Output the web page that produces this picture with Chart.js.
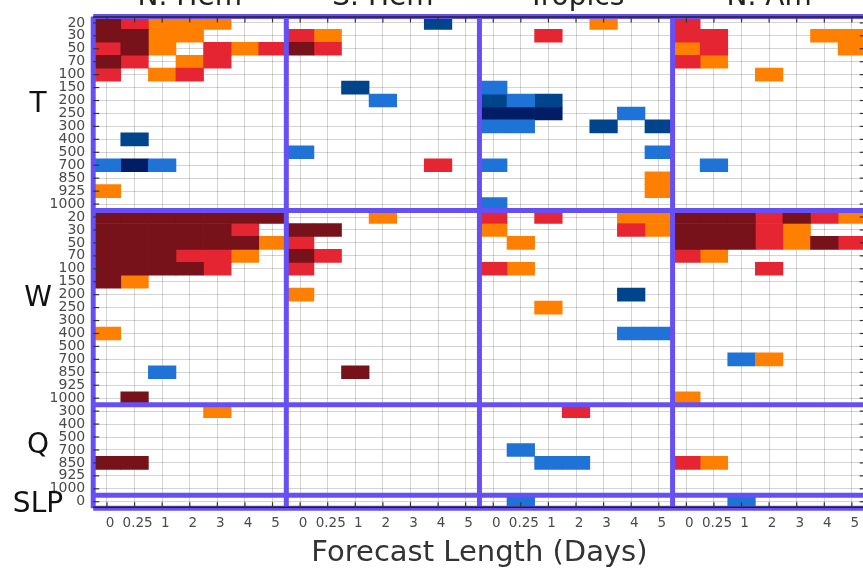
<!DOCTYPE html>
<html>
<head>
<meta charset="utf-8">
<script src="https://cdn.jsdelivr.net/npm/chart.js@4"></script>
<style>
  html, body { margin: 0; padding: 0; background: #fff; overflow: hidden; }
  #wrap { width: 863px; height: 573px; overflow: hidden; }
</style>
</head>
<body>
<div id="wrap"><canvas id="scorecard" width="875" height="573"></canvas></div>
<script>
// regions (column panels) and forecast lengths inside each panel
const panels = ['N. Hem', 'S. Hem', 'Tropics', 'N. Am'];
const days = ['0', '0.25', '1', '2', '3', '4', '5'];

// pressure levels of each variable block
const tLevels = ['20', '30', '50', '70', '100', '150', '200', '250', '300', '400', '500', '700', '850', '925', '1000'];
const wLevels = ['20', '30', '50', '70', '100', '150', '200', '250', '300', '400', '500', '700', '850', '925', '1000'];
const qLevels = ['300', '400', '500', '700', '850', '925', '1000'];
const slpLevels = ['0'];

// score codes per level: one char per forecast length, panels split by '|'
// D = dark red, R = red, O = orange, L = light blue, B = blue, N = navy, . = none
const tCells = [
  'DROOO..|.....B.|....O..|R......',
  'DDOO...|RO.....|..R....|RR...OO',
  'RDO.ROR|DR.....|.......|OR....O',
  'DR.OR..|.......|.......|RO.....',
  'R.OR...|.......|.......|...O...',
  '.......|..B....|L......|.......',
  '.......|...L...|BLB....|.......',
  '.......|.......|NNN..L.|.......',
  '.......|.......|LL..B.B|.......',
  '.B.....|.......|.......|.......',
  '.......|L......|......L|.......',
  'LNL....|.....R.|L......|.L.....',
  '.......|.......|......O|.......',
  'O......|.......|......O|.......',
  '.......|.......|L......|.......'
];
const wCells = [
  'DDDDDDD|...O...|R.R..OO|DDDRDRO',
  'DDDDDR.|DD.....|O....RO|DDDRO..',
  'DDDDDDO|R......|.O.....|DDDRODR',
  'DDDRRO.|DR.....|.......|RO.....',
  'DDDDR..|R......|RO.....|...R...',
  'DO.....|.......|.......|.......',
  '.......|O......|.....B.|.......',
  '.......|.......|..O....|.......',
  '.......|.......|.......|.......',
  'O......|.......|.....LL|.......',
  '.......|.......|.......|.......',
  '.......|.......|.......|..LO...',
  '..L....|..D....|.......|.......',
  '.......|.......|.......|.......',
  '.D.....|.......|.......|O......'
];
const qCells = [
  '....O..|.......|...R...|.......',
  '.......|.......|.......|.......',
  '.......|.......|.......|.......',
  '.......|.......|.L.....|.......',
  'DD.....|.......|..LL...|RO.....',
  '.......|.......|.......|.......',
  '.......|.......|.......|.......'
];
const slpCells = [
  '.......|.......|.L.....|..L....'
];

const colors = {
  D: '#77121a',
  R: '#e52531',
  O: '#ff8000',
  L: '#1f72d6',
  B: '#00458b',
  N: '#001d66'
};

const groups = [
  { name: 'T', levels: tLevels, cells: tCells, at: 6.3 },
  { name: 'W', levels: wLevels, cells: wCells, at: 21.3 },
  { name: 'Q', levels: qLevels, cells: qCells, at: 32.7 },
  { name: 'SLP', levels: slpLevels, cells: slpCells, at: 37.2 }
];

// build row keys and one dataset per colour
let rowKeys = [];
let byColor = {};
Object.keys(colors).forEach(k => byColor[k] = []);
groups.forEach(g => {
  g.levels.forEach((lev, li) => {
    const key = g.name + ' ' + lev;
    rowKeys.push(key);
    const codes = g.cells[li].replace(/\|/g, '');
    for (let c = 0; c < codes.length; c++) {
      const ch = codes[c];
      if (byColor[ch]) byColor[ch].push({ y: key, x: [c, c + 1] });
    }
  });
});
const datasets = Object.keys(colors).map(k => ({
  label: k,
  data: byColor[k],
  backgroundColor: colors[k],
  borderWidth: 0
}));

const nCols = panels.length * days.length;
const purple = '#6650f5';

const overlay = {
  id: 'overlay',
  afterDraw(chart) {
    const ctx = chart.ctx;
    const a = chart.chartArea;
    const x = chart.scales.x;
    const y = chart.scales.y;
    const line = (x1, y1, x2, y2) => { ctx.beginPath(); ctx.moveTo(x1, y1); ctx.lineTo(x2, y2); ctx.stroke(); };
    ctx.save();

    // separators between panels and variable blocks
    ctx.strokeStyle = purple;
    ctx.lineWidth = 5;
    for (let p = 0; p <= panels.length; p++) {
      const px = x.getPixelForValue(p * days.length);
      line(px, a.top, px, a.bottom);
    }
    let start = 0;
    const bounds = [0];
    groups.forEach(g => { start += g.levels.length; bounds.push(start); });
    bounds.forEach(b => {
      const py = y.getPixelForValue(b - 0.5);
      line(a.left, py, a.right, py);
    });

    // spines
    ctx.strokeStyle = '#222';
    ctx.lineWidth = 1.5;
    line(a.left, a.top + 0.5, a.right, a.top + 0.5);
    line(a.left, a.bottom - 1, a.right, a.bottom - 1);

    // inward tick marks
    ctx.strokeStyle = '#333';
    ctx.lineWidth = 1.2;
    x.ticks.forEach(t => {
      const px = x.getPixelForValue(t.value);
      line(px, a.top, px, a.top + 6);
      line(px, a.bottom, px, a.bottom - 6);
    });
    rowKeys.forEach((k, i) => {
      const py = y.getPixelForValue(i);
      line(a.left, py, a.left + 6, py);
      line(a.right, py, a.right - 6, py);
    });

    // panel titles (cut by the top edge)
    ctx.fillStyle = '#222';
    ctx.font = '28px "DejaVu Sans"';
    ctx.textAlign = 'center';
    ctx.textBaseline = 'alphabetic';
    panels.forEach((name, p) => {
      ctx.fillText(name, x.getPixelForValue(p * days.length + days.length / 2), 5);
    });

    // variable names on the left
    ctx.fillStyle = '#111';
    ctx.font = '28px "DejaVu Sans"';
    ctx.textBaseline = 'middle';
    groups.forEach(g => {
      ctx.fillText(g.name, 38, y.getPixelForValue(g.at));
    });
    ctx.restore();
  }
};

const chart = new Chart(document.getElementById('scorecard').getContext('2d'), {
  type: 'bar',
  data: { labels: rowKeys, datasets: datasets },
  options: {
    indexAxis: 'y',
    responsive: false,
    animation: false,
    devicePixelRatio: 1,
    layout: { padding: { top: 10.5, right: 9.3, left: 0, bottom: 0 } },
    plugins: { legend: { display: false }, tooltip: { enabled: false } },
    datasets: { bar: { grouped: false, barPercentage: 1, categoryPercentage: 1 } },
    scales: {
      y: {
        type: 'category',
        offset: true,
        z: 1,
        border: { display: false },
        grid: { offset: false, color: 'rgba(0,0,0,0.17)', drawTicks: false },
        ticks: {
          autoSkip: false,
          padding: 8,
          color: '#4a4a4a',
          font: { family: 'DejaVu Sans', size: 14 },
          callback: function (v) { return this.getLabelForValue(v).split(' ')[1]; }
        },
        afterFit: s => { s.width = 93.2; }
      },
      x: {
        type: 'linear',
        min: 0,
        max: nCols,
        z: 1,
        border: { display: false },
        grid: { color: 'rgba(0,0,0,0.17)', drawTicks: false },
        afterBuildTicks: s => {
          s.ticks = [];
          for (let i = 0; i < nCols; i++) s.ticks.push({ value: i + 0.5 });
        },
        ticks: {
          autoSkip: false,
          maxRotation: 0,
          padding: 7,
          labelOffset: 3,
          color: '#4a4a4a',
          font: { family: 'DejaVu Sans', size: 13.5 },
          callback: (v, i) => days[i % days.length]
        },
        title: {
          display: true,
          text: 'Forecast Length (Days)',
          color: '#333',
          font: { family: 'DejaVu Sans', size: 29 },
          padding: { top: 0, bottom: 2 }
        },
        afterFit: s => { s.height = 64.8; }
      }
    }
  },
  plugins: [overlay]
});
</script>
</body>
</html>
